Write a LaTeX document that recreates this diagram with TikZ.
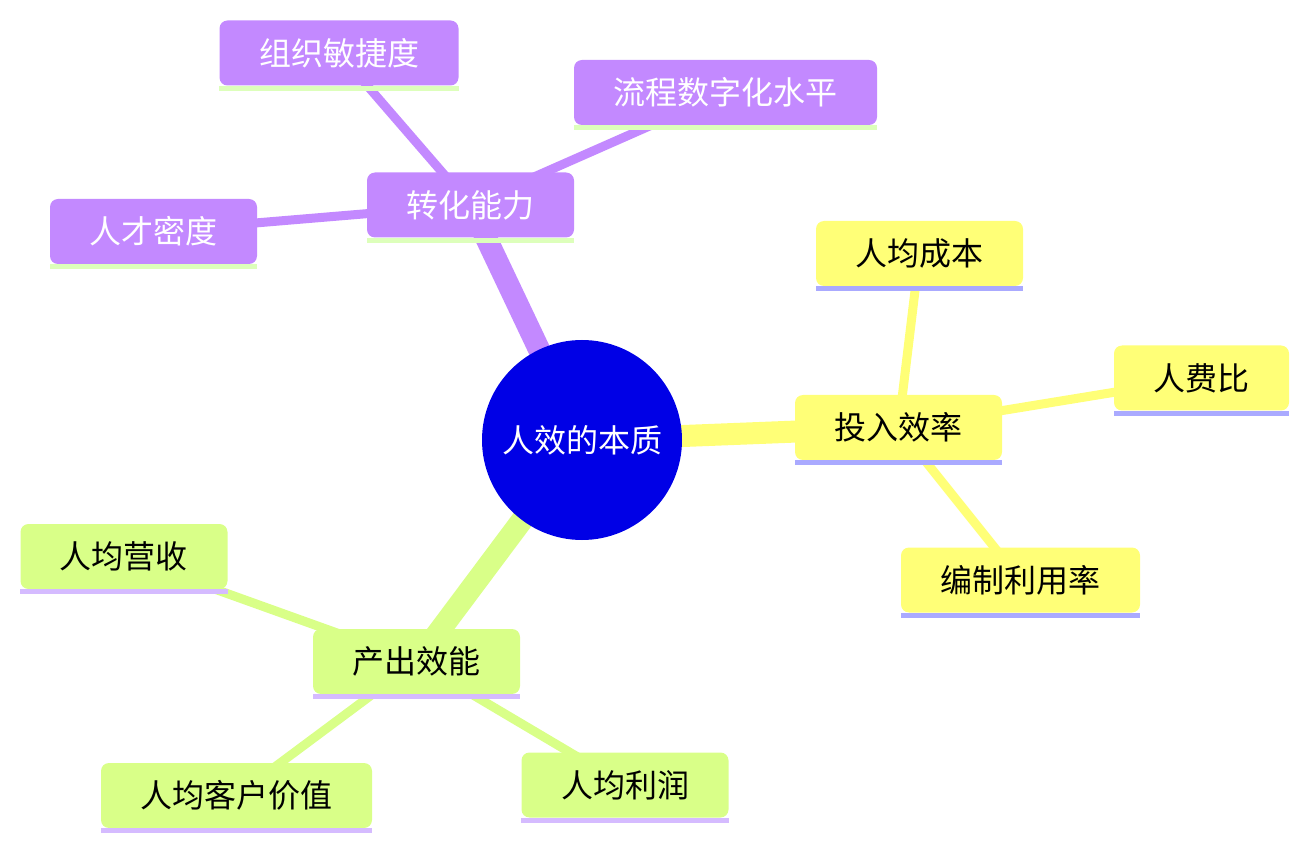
\documentclass[tikz,border=0pt]{standalone}
\usepackage{fontspec}
\usepackage{xcolor}
\usepackage{tikz}
\usetikzlibrary{positioning, calc, backgrounds}
\newfontfamily\cjk{Noto Sans CJK SC}
\definecolor{corebl}{HTML}{0000E6}
\definecolor{purpbr}{HTML}{C389FF}
\definecolor{purpul}{HTML}{DDFFBB}
\definecolor{yellbr}{HTML}{FFFF77}
\definecolor{yellul}{HTML}{AAAAFF}
\definecolor{greenbr}{HTML}{D9FF88}
\definecolor{greenul}{HTML}{D5BBFF}

\begin{document}
\begin{tikzpicture}[
  x=0.5pt, y=-0.5pt,
  corenode/.style = {circle, fill=corebl, minimum size=100pt, inner sep=0pt,
    text=white, font=\cjk\fontsize{16pt}{19pt}\selectfont},
  topicnode/.style = {rectangle, rounded corners=4pt, inner xsep=19.75pt,
    inner ysep=0pt, minimum height=32.5pt,
    font=\cjk\fontsize{16pt}{19pt}\selectfont},
  purpnode/.style = {topicnode, fill=purpbr, text=white},
  yellnode/.style = {topicnode, fill=yellbr, text=black},
  greennode/.style = {topicnode, fill=greenbr, text=black},
  mainlink/.style = {line width=11pt},
  sublink/.style = {line width=4.5pt},
]
\useasboundingbox (0,0) rectangle (1308,850);

% Core node
\node[corenode] (core) at (582,440) {人效的本质};

% Purple branch
\node[purpnode] (trans)  at (470.5,205)  {转化能力};
\node[purpnode] (agile)  at (339,53)     {组织敏捷度};
\node[purpnode] (digit)  at (725.5,92.5) {流程数字化水平};
\node[purpnode] (talent) at (153.5,231.5) {人才密度};

% Yellow branch
\node[yellnode] (input) at (898.5,427.5) {投入效率};
\node[yellnode] (cost)  at (919.5,253.5) {人均成本};
\node[yellnode] (ratio) at (1201.5,378)  {人费比};
\node[yellnode] (staff) at (1020.5,580)  {编制利用率};

% Green branch
\node[greennode] (output)  at (416.5,661.5) {产出效能};
\node[greennode] (revenue) at (124,556.5)   {人均营收};
\node[greennode] (client)  at (236.5,795.5) {人均客户价值};
\node[greennode] (profit)  at (625,785)     {人均利润};

% Underlines
\foreach \n in {trans, agile, digit, talent}
  \fill[purpul] (\n.south west) rectangle ([yshift=-2.5pt]\n.south east);
\foreach \n in {input, cost, ratio, staff}
  \fill[yellul] (\n.south west) rectangle ([yshift=-2.5pt]\n.south east);
\foreach \n in {output, revenue, client, profit}
  \fill[greenul] (\n.south west) rectangle ([yshift=-2.5pt]\n.south east);

% Links behind the nodes
\begin{scope}[on background layer]
  \draw[mainlink, purpbr] (core.center) -- (trans.center);
  \draw[mainlink, yellbr] (core.center) -- (input.center);
  \draw[mainlink, greenbr] (core.center) -- (output.center);
  \foreach \n in {agile, digit, talent}
    \draw[sublink, purpbr] (trans.center) -- (\n.center);
  \foreach \n in {cost, ratio, staff}
    \draw[sublink, yellbr] (input.center) -- (\n.center);
  \foreach \n in {revenue, client, profit}
    \draw[sublink, greenbr] (output.center) -- (\n.center);
\end{scope}
\end{tikzpicture}
\end{document}
